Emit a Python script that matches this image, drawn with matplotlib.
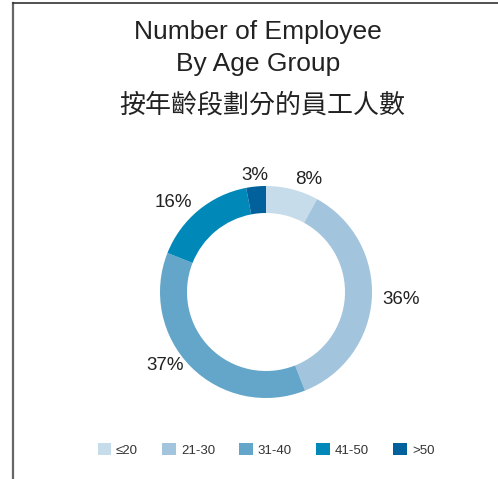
import numpy as np
import matplotlib
matplotlib.use('Agg')
from matplotlib import pyplot as plt
from matplotlib.lines import Line2D

# data
groups = ['≤20', '21-30', '31-40', '41-50', '>50']
shares = [8, 36, 37, 16, 3]
colors = ['#c7dcea', '#a2c5dd', '#64a6c9', '#0088b9', '#00619d']

plt.rcParams['font.family'] = ['Liberation Sans', 'DejaVu Sans']

W, H = 498, 479
fig = plt.figure(figsize=(W / 100, H / 100), dpi=100)
fig.patch.set_facecolor('white')

# pie axes: centre (266, 292) px, radius 106 px
R = 106
cx, cy = 266, 292
half = 1.3 * R
ax = fig.add_axes([(cx - half) / W, (H - cy - half) / H, 2 * half / W, 2 * half / H])
wedges, texts = ax.pie(shares, colors=colors, startangle=90, counterclock=False,
                       labels=['%d%%' % s for s in shares], labeldistance=1.1,
                       wedgeprops=dict(width=27 / R, edgecolor='none'),
                       textprops=dict(fontsize=13.5, color='#222222'))
# small nudges toward the reference label spots
texts[2].set_va('bottom')
texts[4].set_ha('center')
ax.set_xlim(-1.3, 1.3)
ax.set_ylim(-1.3, 1.3)
ax.set_aspect('equal')
ax.axis('off')

# titles
fig.text(258 / W, 1 - 32 / H, 'Number of Employee', ha='center', va='center',
         fontsize=19, color='#222222')
fig.text(258 / W, 1 - 64 / H, 'By Age Group', ha='center', va='center',
         fontsize=19, color='#222222')
fig.text(262 / W, 1 - 105 / H, '按年齡段劃分的員工人數', ha='center', va='center',
         fontsize=18.7, color='#222222', family=['Noto Sans CJK TC', 'DejaVu Sans'])

# legend
leg = fig.legend(wedges, groups, loc='center', bbox_to_anchor=(266 / W, 1 - 450 / H),
                 ncol=5, frameon=False, fontsize=9.5, handlelength=1.0, handleheight=1.0,
                 handletextpad=0.4, columnspacing=1.85)
for t in leg.get_texts():
    t.set_color('#333333')

# frame lines (left and top)
fig.add_artist(Line2D([13 / W, 13 / W], [0, 1 - 3 / H], color='#666666', lw=1.6,
                      transform=fig.transFigure))
fig.add_artist(Line2D([12.5 / W, 1], [1 - 3 / H, 1 - 3 / H], color='#333333', lw=1.2,
                      transform=fig.transFigure))

plt.savefig('out.png', dpi=100)
